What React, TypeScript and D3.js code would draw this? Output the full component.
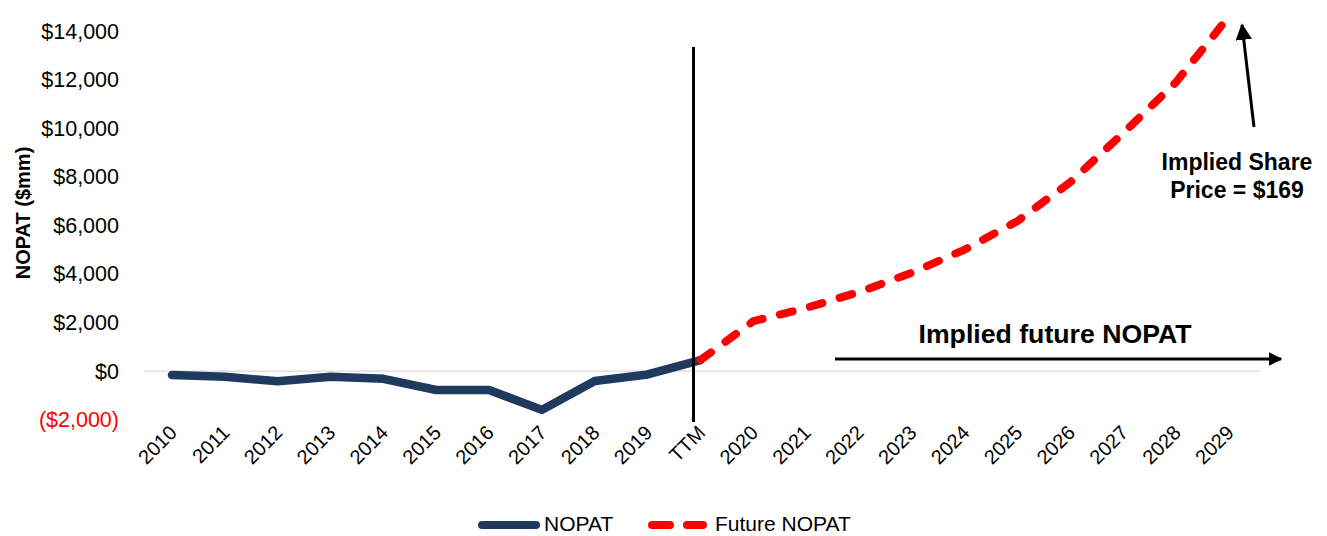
import React from "react";
import * as d3 from "d3";

const categories = ["2010","2011","2012","2013","2014","2015","2016","2017","2018","2019","TTM","2020","2021","2022","2023","2024","2025","2026","2027","2028","2029"];
const histCategories = ["2010","2011","2012","2013","2014","2015","2016","2017","2018","2019","TTM"];
const histValues = [-165, -240, -420, -240, -320, -780, -780, -1600, -410, -140, 450];
const futureCategories = ["TTM","2020","2021","2022","2023","2024","2025","2026","2027","2028","2029"];
const futureValues = [450, 2050, 2600, 3250, 4050, 5000, 6180, 7780, 9800, 11900, 14600];
const yTicks = [-2000, 0, 2000, 4000, 6000, 8000, 10000, 12000, 14000];

const W = 1327, H = 536;
const FONT = "'Liberation Sans', Arial, sans-serif";

const fmt = (v: number) => {
  const s = "$" + d3.format(",")(Math.abs(v));
  return v < 0 ? "(" + s + ")" : s;
};

export default function App() {
  const x = d3.scalePoint<string>().domain(categories).range([172, 1229]);
  const y = d3.scaleLinear().domain([-2000, 14000]).range([419.6, 31]);
  const line = d3.line<[string, number]>().x(d => x(d[0]) as number).y(d => y(d[1]));
  const hist = line(histCategories.map((c, i) => [c, histValues[i]] as [string, number])) || "";
  const fut = line(futureCategories.map((c, i) => [c, futureValues[i]] as [string, number])) || "";
  const ttmX = (x("TTM") as number) - 7;

  return (
    <svg width={W} height={H} style={{ position: "absolute", left: 0, top: 0, background: "#fff" }} fontFamily={FONT}>
      <defs>
        <marker id="ah" viewBox="0 0 10 10" refX="9" refY="5" markerWidth="4.5" markerHeight="4.5" orient="auto" markerUnits="strokeWidth">
          <path d="M0,0 L10,5 L0,10 z" fill="#000" />
        </marker>
        <marker id="ah2" viewBox="0 0 10 10" refX="9" refY="5" markerWidth="5.5" markerHeight="5.5" orient="auto" markerUnits="strokeWidth">
          <path d="M0,0 L10,5 L0,10 z" fill="#000" />
        </marker>
      </defs>
      {/* zero gridline */}
      <line x1={144} x2={1260} y1={y(0)} y2={y(0)} stroke="#d9d9d9" strokeWidth={1.3} />
      {/* y tick labels */}
      {yTicks.map(t => (
        <text key={t} x={119} y={y(t)} dy="0.35em" textAnchor="end" fontSize={21.5} fill={t < 0 ? "#ff0000" : "#000"}>{fmt(t)}</text>
      ))}
      <text transform={`translate(30,213) rotate(-90)`} textAnchor="middle" fontSize={20} fontWeight="bold" fill="#000">NOPAT ($mm)</text>
      {/* x labels */}
      {categories.map(c => (
        <text key={c} transform={`translate(${(x(c) as number) + 6},434) rotate(-45)`} textAnchor="end" fontSize={20} fill="#000">{c}</text>
      ))}
      {/* series */}
      <path d={hist} fill="none" stroke="#1f3a5f" strokeWidth={8.5} strokeLinejoin="round" strokeLinecap="round" />
      <path d={fut} fill="none" stroke="#ff0000" strokeWidth={8} strokeDasharray="13 18" strokeLinecap="round" strokeLinejoin="round" />
      {/* TTM divider */}
      <line x1={ttmX} x2={ttmX} y1={47} y2={422} stroke="#000" strokeWidth={3} />
      {/* horizontal arrow */}
      <line x1={835} x2={1281} y1={359} y2={359} stroke="#000" strokeWidth={3} markerEnd="url(#ah)" />
      <text x={1055} y={343} textAnchor="middle" fontSize={26} fontWeight="bold" fill="#000" textLength={273} lengthAdjust="spacingAndGlyphs">Implied future NOPAT</text>
      {/* up arrow */}
      <line x1={1254} x2={1242} y1={127} y2={25} stroke="#000" strokeWidth={3} markerEnd="url(#ah2)" />
      <text x={1237} y={170} textAnchor="middle" fontSize={23} fontWeight="bold" fill="#000">Implied Share</text>
      <text x={1237} y={198} textAnchor="middle" fontSize={23} fontWeight="bold" fill="#000">Price = $169</text>
      {/* legend */}
      <line x1={482} x2={536} y1={525} y2={525} stroke="#1f3a5f" strokeWidth={8} strokeLinecap="round" />
      <text x={544} y={531} fontSize={21} fill="#000">NOPAT</text>
      <line x1={652} x2={703} y1={525} y2={525} stroke="#ff0000" strokeWidth={8} strokeLinecap="round" strokeDasharray="18 17" />
      <text x={715} y={531} fontSize={21} fill="#000">Future NOPAT</text>
    </svg>
  );
}
